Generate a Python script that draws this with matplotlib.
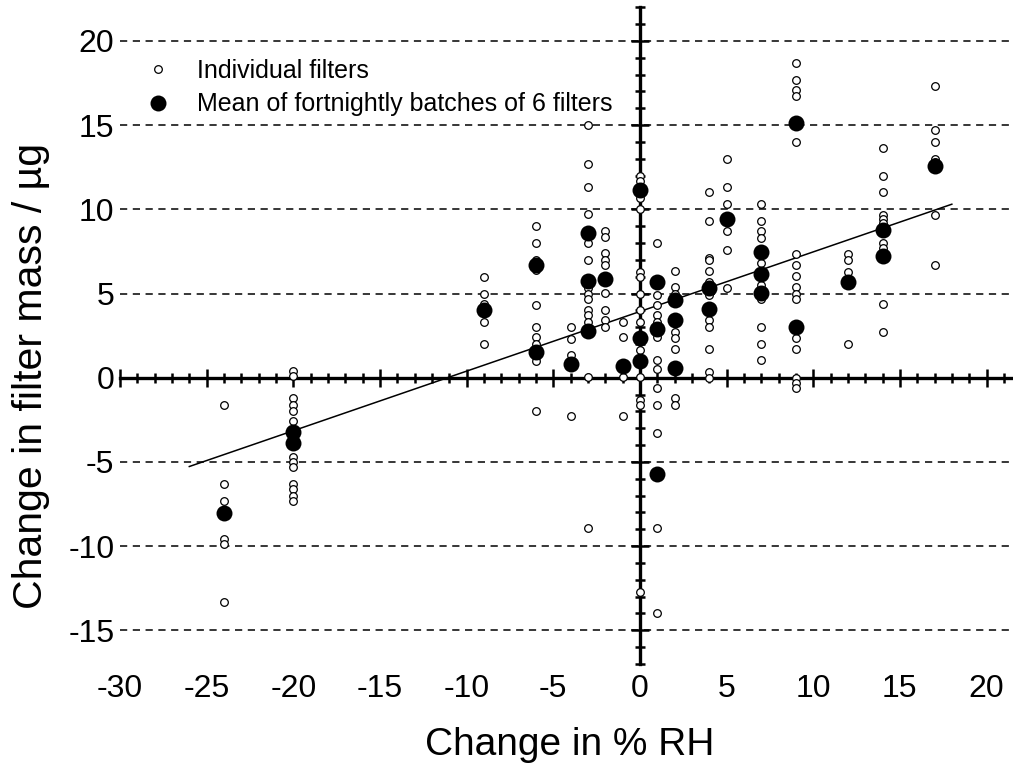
import matplotlib
matplotlib.use("Agg")
import matplotlib.pyplot as plt
import numpy as np

plt.rcParams["font.family"] = ["Liberation Sans", "DejaVu Sans"]
plt.rcParams["lines.scale_dashes"] = False

# individual filters, listed column by column (change in %RH, change in mass / ug)
ind_x = ([-24] * 6 + [-20] * 13 + [-9] * 5 + [-6] * 12 + [-4] * 4 + [-3] * 14
         + [-2] * 9 + [-1] * 4 + [0] * 14 + [1] * 13 + [2] * 8 + [4] * 12
         + [5] * 6 + [7] * 10 + [9] * 16 + [12] * 4 + [14] * 10 + [17] * 7)
ind_y = [
    -1.6, -6.3, -7.3, -9.6, -9.9, -13.3,
    0.4, 0.1, -1.2, -1.6, -2.0, -2.6, -4.7, -5.0, -5.3, -6.3, -6.6, -7.0, -7.3,
    6.0, 5.0, 4.4, 3.3, 2.0,
    9.0, 8.0, 7.0, 6.6, 6.4, 4.3, 3.0, 2.4, 2.0, 1.2, 1.0, -2.0,
    3.0, 2.3, 1.35, -2.3,
    15.0, 12.7, 11.3, 9.7, 8.0, 7.0, 5.3, 5.0, 4.65, 4.0, 3.7, 3.3, 0.05, -8.95,
    8.7, 8.35, 7.4, 7.0, 6.7, 5.05, 4.0, 3.4, 3.0,
    3.3, 2.4, 0.05, -2.3,
    12.0, 11.7, 10.7, 10.0, 6.3, 6.0, 5.0, 4.0, 3.3, 1.65, 0.05, -1.3, -1.6, -12.7,
    8.0, 4.3, 3.7, 3.3, 2.4, 1.05, -0.6, -1.65, -3.3, -8.95, -13.95, 4.9, 0.5,
    6.35, 5.4, 2.7, 2.35, 1.7, -1.2, -1.6, 5.0,
    11.0, 9.3, 7.1, 7.0, 6.35, 5.7, 4.9, 3.4, 3.0, 1.7, 0.35, 0.0,
    13.0, 11.3, 10.3, 8.7, 7.6, 5.35,
    10.3, 9.3, 8.7, 8.3, 6.8, 5.5, 4.7, 3.0, 2.0, 1.05,
    18.7, 17.7, 17.1, 16.7, 14.0, 7.35, 6.7, 6.05, 5.4, 5.0, 4.7, 2.35, 1.7, 0.0, -0.3, -0.6,
    7.35, 7.0, 6.3, 2.0,
    13.65, 12.0, 11.0, 9.65, 9.4, 9.2, 8.0, 7.7, 4.35, 2.7,
    17.3, 14.7, 14.0, 13.0, 12.8, 9.65, 6.7,
]

# means of fortnightly batches of 6 filters
mean_x = [-24, -20, -20, -9, -6, -6, -4, -3, -3, -3, -2, -1, 0, 0, 0,
          1, 1, 1, 2, 2, 2, 4, 4, 5, 7, 7, 7, 9, 9, 12, 14, 14, 17]
mean_y = [-8.05, -3.25, -3.9, 4.0, 6.7, 1.55, 0.8, 8.6, 5.75, 2.8, 5.85, 0.7,
          11.15, 2.35, 1.0, 5.7, 2.9, -5.7, 4.6, 3.4, 0.55, 5.35, 4.1, 9.4,
          7.45, 6.15, 5.05, 15.15, 3.0, 5.7, 8.8, 7.2, 12.55]

# least squares line through the data
fit_slope = 0.354
fit_intercept = 3.93
fit_range = [-26.0, 18.0]

x_ticks = [-30, -25, -20, -15, -10, -5, 0, 5, 10, 15, 20]
y_ticks = [-15, -10, -5, 0, 5, 10, 15, 20]
grid_y = [-15, -10, -5, 5, 10, 15, 20]

W, H = 1013, 769
fig = plt.figure(figsize=(W / 100, H / 100), dpi=100)
x0_px, y0_px, xs, ys = 640.0, 377.7, 17.33, 16.84
xlim = (-30, -30 + (W - 120) / xs)
ylim = (-(H - y0_px) / ys, y0_px / ys)
ax = fig.add_axes([120 / W, 0, 1 - 120 / W, 1])
ax.set_xlim(*xlim)
ax.set_ylim(*ylim)

ax.hlines(grid_y, -30, xlim[1], colors="black", linewidth=1.1,
          linestyles=[(0, (5.2, 4.0))], zorder=1)

for side in ["top", "right"]:
    ax.spines[side].set_visible(False)
ax.spines["left"].set_position(("data", 0))
ax.spines["bottom"].set_position(("data", 0))
ax.spines["left"].set_bounds(-17, 22)
ax.spines["bottom"].set_bounds(-30, xlim[1])
for side in ["left", "bottom"]:
    ax.spines[side].set_linewidth(2.4)
    ax.spines[side].set_zorder(2)

ax.set_xticks(x_ticks)
ax.set_xticks(np.arange(-30, 22), minor=True)
ax.set_yticks(y_ticks)
ax.set_yticks(np.arange(-17, 23), minor=True)
ax.tick_params(which="major", direction="inout", length=13.5, width=1.8,
               labelleft=False, labelbottom=False)
ax.tick_params(which="minor", direction="inout", length=7.5, width=1.8)

xs_fit = np.array(fit_range)
ax.plot(xs_fit, fit_slope * xs_fit + fit_intercept, color="black", lw=1.1, zorder=3)

ax.plot(ind_x, ind_y, "o", ms=5.5, mfc="white", mec="black", mew=0.9,
        zorder=4, label="Individual filters")
ax.plot(mean_x, mean_y, "o", ms=11.5, mfc="black", mec="black", mew=0,
        zorder=5, label="Mean of fortnightly batches of 6 filters")

for v in x_ticks:
    ax.text(v, -18.94, str(v), ha="center", va="baseline", fontsize=23)
for v in y_ticks:
    ax.annotate(str(v), xy=(-30, v), xytext=(-4, -8.3), textcoords="offset points",
                ha="right", va="baseline", fontsize=23, annotation_clip=False)

fig.text(570 / W, 1 - 755 / H, "Change in % RH", ha="center", va="baseline", fontsize=28)
fig.text(31 / W, 1 - 376 / H, "Change in filter mass / µg", rotation=90,
         ha="center", va="center", fontsize=29.5)

fig.legend(loc="upper left", bbox_to_anchor=(145.5 / W, 1 - 59 / H), frameon=False,
           fontsize=18, handlelength=1.0, handletextpad=1.06, labelspacing=0.38,
           borderpad=0, borderaxespad=0, numpoints=1)

fig.savefig("out.png", dpi=100)
